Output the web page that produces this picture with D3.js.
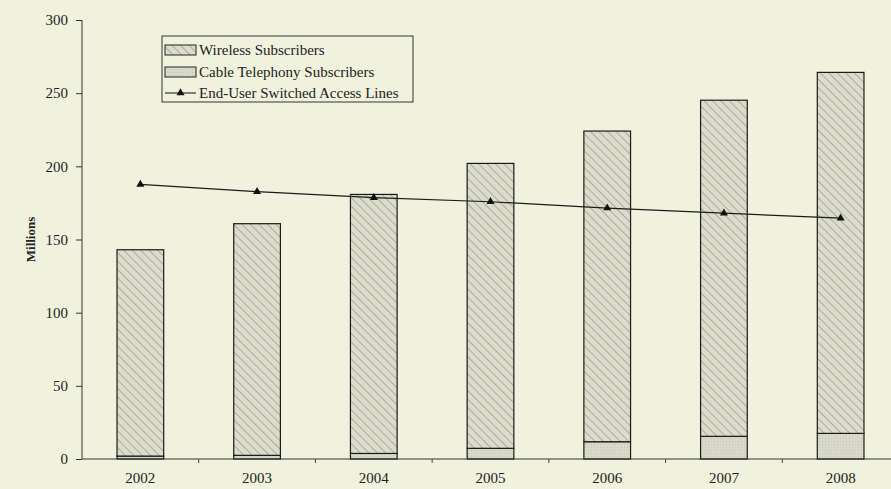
<!DOCTYPE html>
<html>
<head>
<meta charset="utf-8">
<script src="https://cdn.jsdelivr.net/npm/d3@7"></script>
<style>
body { margin: 0; background: #f1f2de; }
svg { display: block; }
</style>
</head>
<body>
<script>
//Chart values (millions)
var years = ["2002", "2003", "2004", "2005", "2006", "2007", "2008"];
var cable = [2.0, 2.5, 3.8, 7.3, 11.8, 15.5, 17.5];
var wireless = [141, 158.3, 177, 194.7, 212.3, 229.7, 246.7];
var accessLines = [187.7, 182.7, 178.6, 175.8, 171.5, 168.0, 164.6];
var yTicks = [0, 50, 100, 150, 200, 250, 300];
var seriesNames = ["Wireless Subscribers", "Cable Telephony Subscribers", "End-User Switched Access Lines"];

var width = 891, height = 489;
var fontFam = "'Liberation Serif', 'Times New Roman', serif";

var svg = d3.select("body").append("svg")
	.attr("width", width)
	.attr("height", height);

svg.append("rect")
	.attr("width", width)
	.attr("height", height)
	.attr("fill", "#f1f2de");

//patterns for bar fills
var defs = svg.append("defs");
var hatch = defs.append("pattern")
	.attr("id", "hatch")
	.attr("patternUnits", "userSpaceOnUse")
	.attr("width", 6)
	.attr("height", 6)
	.attr("patternTransform", "rotate(-45)");
hatch.append("rect")
	.attr("width", 6)
	.attr("height", 6)
	.attr("fill", "#dcdccc");
hatch.append("line")
	.attr("x1", 0).attr("y1", 0)
	.attr("x2", 0).attr("y2", 6)
	.attr("stroke", "#707068")
	.attr("stroke-width", 0.9);

var dots = defs.append("pattern")
	.attr("id", "dots")
	.attr("patternUnits", "userSpaceOnUse")
	.attr("width", 3)
	.attr("height", 3);
dots.append("rect")
	.attr("width", 3)
	.attr("height", 3)
	.attr("fill", "#d8d9c8");
dots.append("rect")
	.attr("width", 1)
	.attr("height", 1)
	.attr("fill", "#c6c6b6");

//scales
var x = d3.scaleBand()
	.domain(years)
	.range([82, 899])
	.paddingInner(0.6)
	.paddingOuter(0.3);

var y = d3.scaleLinear()
	.domain([0, 300])
	.range([459, 20]);

//stacked bars
var table = years.map(function(yr, i) {
	return { year: yr, cable: cable[i], wireless: wireless[i] };
});
var stacked = d3.stack().keys(["cable", "wireless"])(table);
var fills = { cable: "url(#dots)", wireless: "url(#hatch)" };

stacked.forEach(function(layer) {
	svg.append("g")
		.selectAll("rect")
		.data(layer)
		.enter()
		.append("rect")
		.attr("x", function(d) { return x(d.data.year); })
		.attr("width", x.bandwidth())
		.attr("y", function(d) { return y(d[1]); })
		.attr("height", function(d) { return y(d[0]) - y(d[1]); })
		.attr("fill", fills[layer.key])
		.attr("stroke", "#1a1a1a")
		.attr("stroke-width", 1.2);
});

//Y axis
var yAxis = d3.axisLeft(y).tickValues(yTicks).tickSize(6).tickPadding(8);
var gy = svg.append("g")
	.attr("transform", "translate(82,0)")
	.call(yAxis);
gy.selectAll("path, line").attr("stroke", "#333");
gy.selectAll("text")
	.attr("font-family", fontFam)
	.attr("font-size", 15)
	.attr("fill", "#222");
gy.select(".domain").attr("d", "M0," + y(300) + "V" + y(0));

//X axis
var gx = svg.append("g")
	.attr("transform", "translate(0," + y(0) + ")");
gx.append("line")
	.attr("x1", 82).attr("x2", width)
	.attr("stroke", "#333");
var bounds = years.slice(1).map(function(yr) {
	return x(yr) - x.step() * x.paddingInner() / 2;
});
gx.selectAll(".tk")
	.data(bounds)
	.enter()
	.append("line")
	.attr("x1", function(d) { return d; })
	.attr("x2", function(d) { return d; })
	.attr("y1", 0).attr("y2", 4)
	.attr("stroke", "#444");
gx.selectAll("text")
	.data(years)
	.enter()
	.append("text")
	.attr("x", function(d) { return x(d) + x.bandwidth() / 2; })
	.attr("y", 24)
	.attr("text-anchor", "middle")
	.attr("font-family", fontFam)
	.attr("font-size", 15)
	.attr("fill", "#222")
	.text(function(d) { return d; });

//y title
svg.append("text")
	.attr("transform", "translate(35," + y(150) + ") rotate(-90)")
	.attr("text-anchor", "middle")
	.attr("font-family", fontFam)
	.attr("font-size", 13)
	.attr("font-weight", "bold")
	.attr("fill", "#222")
	.text("Millions");

//access lines
var line = d3.line()
	.x(function(d, i) { return x(years[i]) + x.bandwidth() / 2; })
	.y(function(d) { return y(d); });
svg.append("path")
	.datum(accessLines)
	.attr("d", line)
	.attr("fill", "none")
	.attr("stroke", "#1a1a1a")
	.attr("stroke-width", 1.2);
var tri = d3.symbol().type(d3.symbolTriangle).size(28);
svg.selectAll(".mk")
	.data(accessLines)
	.enter()
	.append("path")
	.attr("d", tri)
	.attr("transform", function(d, i) {
		return "translate(" + (x(years[i]) + x.bandwidth() / 2) + "," + y(d) + ")";
	})
	.attr("fill", "#111");

//legend
var legend = svg.append("g").attr("transform", "translate(162,36)");
legend.append("rect")
	.attr("width", 251)
	.attr("height", 66)
	.attr("fill", "#f1f2de")
	.attr("stroke", "#333");
var rowY = [14, 36, 57];
[fills.wireless, fills.cable].forEach(function(f, i) {
	legend.append("rect")
		.attr("x", 3).attr("y", rowY[i] - 5)
		.attr("width", 31).attr("height", 10)
		.attr("fill", f)
		.attr("stroke", "#222");
});
legend.append("line")
	.attr("x1", 3).attr("x2", 34)
	.attr("y1", rowY[2]).attr("y2", rowY[2])
	.attr("stroke", "#111");
legend.append("path")
	.attr("d", tri)
	.attr("transform", "translate(18.5," + rowY[2] + ")")
	.attr("fill", "#111");
legend.selectAll(".lt")
	.data(seriesNames)
	.enter()
	.append("text")
	.attr("x", 37)
	.attr("y", function(d, i) { return rowY[i] + 5; })
	.attr("font-family", fontFam)
	.attr("font-size", 15)
	.attr("fill", "#222")
	.text(function(d) { return d; });
</script>
</body>
</html>
